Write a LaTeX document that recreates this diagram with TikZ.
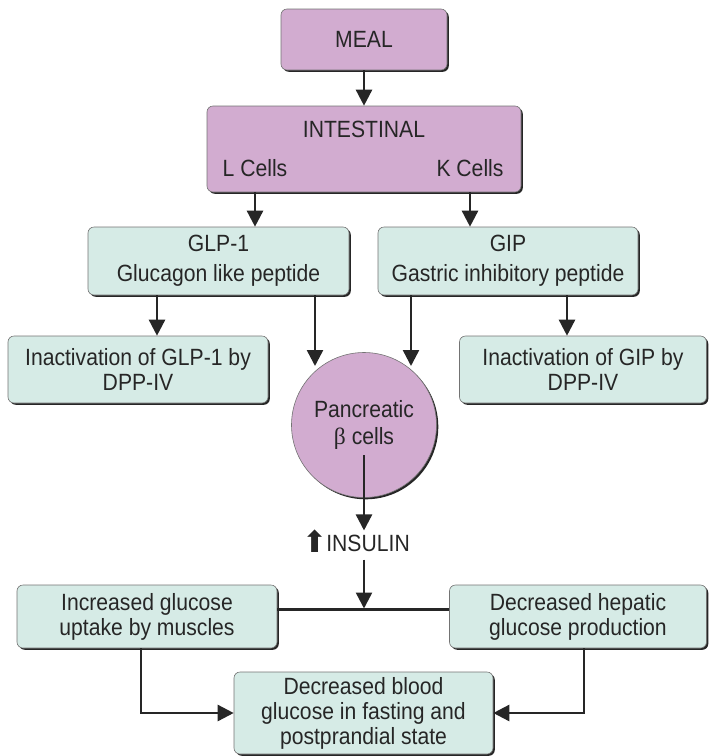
\documentclass[tikz,border=0pt]{standalone}
\usepackage{fontspec}
\setmainfont[FakeStretch=0.9]{Liberation Sans}
\newfontfamily\symfont{DejaVu Sans}
\newfontfamily\serifgreek{Liberation Serif}
\usetikzlibrary{arrows.meta,shadows,calc}
\definecolor{purp}{HTML}{D2ACD0}
\definecolor{mint}{HTML}{D6EBE6}
\definecolor{txt}{HTML}{262626}
\begin{document}
\begin{tikzpicture}[x=1pt,y=-1pt,
  every node/.style={font=\fontsize{23.5}{25}\selectfont, text=txt},
  boxbase/.style={draw=black!55, line width=0.6pt, rounded corners=6pt,
    drop shadow={shadow xshift=1.8pt, shadow yshift=-1.8pt, fill=black!85, opacity=1},
    align=center, inner sep=0pt},
  pbox/.style={boxbase, fill=purp},
  gbox/.style={boxbase, fill=mint},
  arr/.style={line width=2.5pt, draw=black!85, -{Triangle[width=16pt,length=16pt]}},
  ln/.style={line width=2.5pt, draw=black!85}]
\useasboundingbox (0,0) rectangle (709,756);

% top boxes
\node[pbox, minimum width=166pt, minimum height=61pt] (meal) at (364,39.5) {MEAL};
\node[pbox, minimum width=314pt, minimum height=86pt] (intest) at (364,149) {};
\node (intl) at (364,129) {INTESTINAL};
\node (lc) at (255,168) {L Cells};
\node (kc) at (470,168) {K Cells};

\node[gbox, minimum width=261pt, minimum height=68pt] (glp) at (218.5,261) {GLP-1\\[5pt]Glucagon like peptide};
\node[gbox, minimum width=260pt, minimum height=68pt] (gip) at (508,261) {GIP\\[5pt]Gastric inhibitory peptide};

\node[gbox, minimum width=260pt, minimum height=67pt] (inglp) at (138,369.5) {Inactivation of GLP-1 by\\DPP-IV};
\node[gbox, minimum width=247pt, minimum height=67pt] (ingip) at (583,369.5) {Inactivation of GIP by\\DPP-IV};

\node[circle, boxbase, fill=purp, minimum size=145pt] (panc) at (364,425) {Pancreatic\\[2pt]{\serifgreek β} cells};

\node[text height=17pt, text depth=5pt] (ins) at (356,545) {{\symfont\fontsize{30}{30}\selectfont\raisebox{-1pt}{⬆}}\kern-1pt INSULIN};

\node[gbox, minimum width=260pt, minimum height=63pt] (musc) at (147,616.5) {Increased glucose\\uptake by muscles};
\node[gbox, minimum width=257pt, minimum height=63pt] (hep) at (578,616.5) {Decreased hepatic\\glucose production};
\node[gbox, minimum width=259pt, minimum height=82pt] (res) at (363.5,713) {Decreased blood\\glucose in fasting and\\postprandial state};

% helper coordinates
\coordinate (c1) at (157,0);
\coordinate (c2) at (567,0);
\coordinate (pl) at (315,366);
\coordinate (pr) at (411,366);
\coordinate (hl) at ($(musc.east)+(0,-7)$);
\coordinate (mcol) at (141,0);
\coordinate (hcol) at (584,0);

% connectors
\draw[arr] (meal) -- (intest);
\draw[arr] (intest.south -| lc) -- (glp.north -| lc);
\draw[arr] (intest.south -| kc) -- (gip.north -| kc);
\draw[arr] (glp.south -| c1) -- (inglp.north -| c1);
\draw[arr] (gip.south -| c2) -- (ingip.north -| c2);
\draw[arr] (glp.south -| pl) -- (pl);
\draw[arr] (gip.south -| pr) -- (pr);
\draw[arr] ($(panc.center)+(0,30)$) -- (ins.north -| panc);
\draw[ln] (hl) -- (hl -| hep.west);
\draw[arr, shorten >=1pt] (ins.south -| panc) -- (hl -| panc);
\draw[arr] (musc.south -| mcol) |- (res.west);
\draw[arr] (hep.south -| hcol) |- (res.east);
\end{tikzpicture}
\end{document}
